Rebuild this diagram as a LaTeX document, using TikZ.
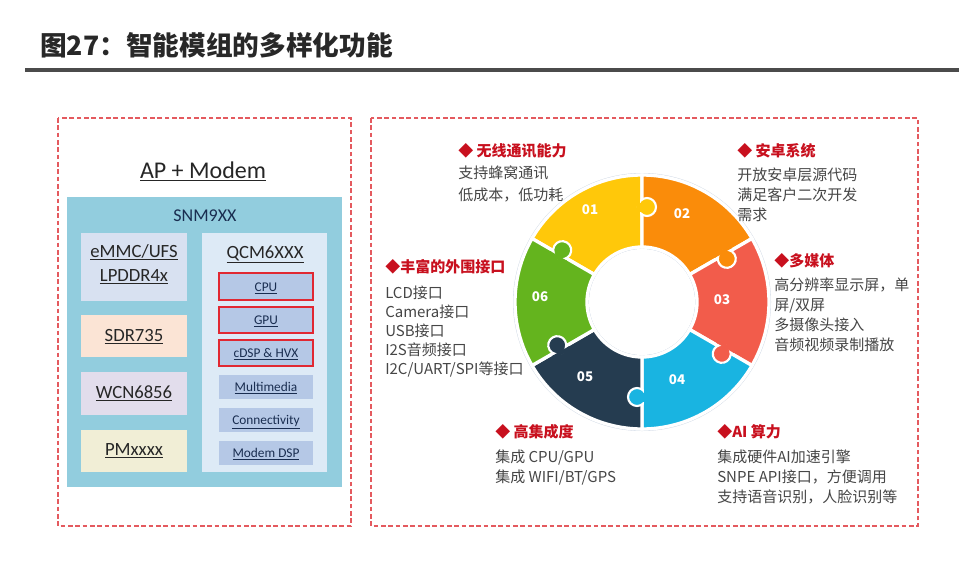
\documentclass[tikz,border=0pt]{standalone}
\usepackage{fontspec}
\setmainfont{Carlito}
\newfontfamily\cjk{Noto Sans CJK SC}
\usetikzlibrary{fit}
\definecolor{dashred}{RGB}{228,90,95}
\definecolor{snm}{RGB}{146,205,222}
\definecolor{mem}{RGB}{216,225,241}
\definecolor{sdr}{RGB}{251,228,213}
\definecolor{wcn}{RGB}{226,221,236}
\definecolor{pm}{RGB}{241,238,214}
\definecolor{qcm}{RGB}{221,234,246}
\definecolor{subc}{RGB}{181,200,230}
\definecolor{subred}{RGB}{225,40,50}
\definecolor{hdr}{RGB}{200,16,30}
\definecolor{bodyc}{RGB}{70,70,70}
\definecolor{navy}{RGB}{25,45,80}
\definecolor{titlec}{RGB}{40,40,40}
\definecolor{rulec}{RGB}{75,75,75}
\definecolor{edgec}{RGB}{205,215,228}
\definecolor{cA}{RGB}{255,200,10}
\definecolor{cB}{RGB}{250,140,10}
\definecolor{cC}{RGB}{242,92,75}
\definecolor{cD}{RGB}{25,180,225}
\definecolor{cE}{RGB}{37,60,80}
\definecolor{cF}{RGB}{100,180,30}
\tikzset{
  panel/.style={draw=dashred, line width=0.9pt, dash pattern=on 3.5pt off 2pt},
  box/.style={inner sep=0pt, outer sep=0pt},
  redbox/.style={box, draw=subred, line width=1.1pt},
  lefttxt/.style={font=\fontsize{14}{16}\selectfont, text=black!85, inner sep=0pt, anchor=base},
  subtxt/.style={font=\fontsize{10}{12}\selectfont, text=navy, inner sep=0pt, anchor=base},
  hdrtxt/.style={font=\cjk\bfseries\fontsize{11.25}{13}\selectfont, text=hdr, inner sep=0pt, anchor=base west},
  bodytxt/.style={font=\cjk\fontsize{11.25}{13}\selectfont, text=bodyc, inner sep=0pt, anchor=base west},
  num/.style={font=\cjk\bfseries\fontsize{10}{12}\selectfont, text=white, inner sep=0pt},
  seg/.style={draw=white, line width=2.5pt},
}
\begin{document}
\begin{tikzpicture}[x=0.75pt, y=-0.75pt]
\useasboundingbox (0,0) rectangle (959,571);
\fill[white] (0,0) rectangle (959,571);
% title
\node[anchor=base west, font=\cjk\bfseries\fontsize{20}{22}\selectfont, text=titlec, inner sep=0pt] (title) at (40,55) {图27：智能模组的多样化功能};
\draw[rulec, line width=2.3pt] (25,70) -- (959,70);
% panels
\draw[panel] (58,118) rectangle (351,526);
\draw[panel] (371,118) rectangle (918,526);
% left panel
\node[lefttxt, font=\fontsize{18}{20}\selectfont] (apm) at (203,178) {\underline{AP + Modem}};
\node[fit={(67,197) (342,487)}, box, fill=snm] (snm) {};
\node[lefttxt, font=\fontsize{13.5}{15}\selectfont, text=navy] (snmt) at (205,221) {SNM9XX};
\node[fit={(81,233) (187,301)}, box, fill=mem] (mem) {};
\node[lefttxt] (emmc) at (134,257) {\underline{eMMC/UFS}};
\node[lefttxt] (lpddr) at (134,281) {\underline{LPDDR4x}};
\node[fit={(81,315) (187,357)}, box, fill=sdr] (sdr) {};
\node[lefttxt] (sdrt) at (134,341) {\underline{SDR735}};
\node[fit={(81,372) (187,415)}, box, fill=wcn] (wcn) {};
\node[lefttxt] (wcnt) at (134,398) {\underline{WCN6856}};
\node[fit={(81,430) (187,472)}, box, fill=pm] (pm) {};
\node[lefttxt] (pmt) at (134,455) {\underline{PMxxxx}};
\node[fit={(202,233) (327,472)}, box, fill=qcm] (qcm) {};
\node[lefttxt] (qcmt) at (265,258) {\underline{QCM6XXX}};
\node[fit={(219,273) (313,300)}, redbox, fill=subc] (cpu) {};
\node[subtxt] (cput) at (266,291) {\underline{CPU}};
\node[fit={(219,307) (313,333)}, redbox, fill=subc] (gpu) {};
\node[subtxt] (gput) at (266,324.5) {\underline{GPU}};
\node[fit={(219,340) (313,366)}, redbox, fill=subc] (dsp) {};
\node[subtxt] (dspt) at (266,357.5) {\underline{cDSP \& HVX}};
\node[fit={(219,375) (313,399)}, box, fill=subc] (mm) {};
\node[subtxt] (mmt) at (266,391) {\underline{Multimedia}};
\node[fit={(219,408) (313,432)}, box, fill=subc] (con) {};
\node[subtxt] (cont) at (266,424) {\underline{Connectivity}};
\node[fit={(219,441) (313,465)}, box, fill=subc] (mdsp) {};
\node[subtxt] (mdspt) at (266,457) {\underline{Modem DSP}};
% ring (math orientation inside)
\begin{scope}[shift={(642,302)}, x=0.75pt, y=0.75pt]
  \fill[edgec] (0,0) circle[radius=129];
  \fill[white] (0,0) circle[radius=53];
  \foreach \a/\c in {90/cA, 30/cB, -30/cC, -90/cD, -150/cE, 150/cF}{
    \path[seg, fill=\c] (\a:127) arc[start angle=\a, end angle=\a+60, radius=127]
      -- (\a+60:55) arc[start angle=\a+60, end angle=\a, radius=55] -- cycle;
  }
  \foreach \a/\c in {90/cA, 30/cB, -30/cC, -90/cD, -150/cE, 150/cF}{
    \begin{scope}[rotate=\a]
      \path[fill=\c, draw=white, line width=1.6pt] (95,-5) circle[radius=9];
      \fill[\c] (85,1.8) rectangle (105,5.5);
      \fill[\c] (90.5,2) rectangle (99.5,-2.5);
    \end{scope}
  }
\end{scope}
\node[num] (n1) at (590,210) {01};
\node[num] (n2) at (682,214) {02};
\node[num] (n3) at (722,300) {03};
\node[num] (n4) at (677,380) {04};
\node[num] (n5) at (585,377) {05};
\node[num] (n6) at (540,297) {06};
% right texts
\node[hdrtxt] (h1) at (458,156.5) {◆ 无线通讯能力};
\foreach \t [count=\i] in {支持蜂窝通讯, 低成本，低功耗}
  \node[bodytxt] (b1-\i) at (458,{178.5+(\i-1)*22}) {\t};
\node[hdrtxt] (h6) at (385,272.5) {◆丰富的外围接口};
\foreach \t [count=\i] in {LCD接口, Camera接口, USB接口, I2S音频接口, I2C/UART/SPI等接口}
  \node[bodytxt] (b6-\i) at (385,{298.5+(\i-1)*19}) {\t};
\node[hdrtxt] (h2) at (737,156.5) {◆ 安卓系统};
\foreach \t [count=\i] in {开放安卓层源代码, 满足客户二次开发, 需求}
  \node[bodytxt] (b2-\i) at (737,{180.5+(\i-1)*20}) {\t};
\node[hdrtxt] (h3) at (774,266.5) {◆多媒体};
\foreach \t [count=\i] in {高分辨率显示屏，单, 屏/双屏, 多摄像头接入, 音频视频录制播放}
  \node[bodytxt] (b3-\i) at (774,{290.5+(\i-1)*20}) {\t};
\node[hdrtxt] (h5) at (495,437.5) {◆ 高集成度};
\foreach \t [count=\i] in {集成 CPU/GPU, 集成 WIFI/BT/GPS}
  \node[bodytxt] (b5-\i) at (495,{462.5+(\i-1)*20}) {\t};
\node[hdrtxt] (h4) at (717,437.5) {◆AI 算力};
\foreach \t [count=\i] in {集成硬件AI加速引擎, SNPE API接口，方便调用, 支持语音识别，人脸识别等}
  \node[bodytxt] (b4-\i) at (717,{462.5+(\i-1)*20}) {\t};
\end{tikzpicture}
\end{document}
